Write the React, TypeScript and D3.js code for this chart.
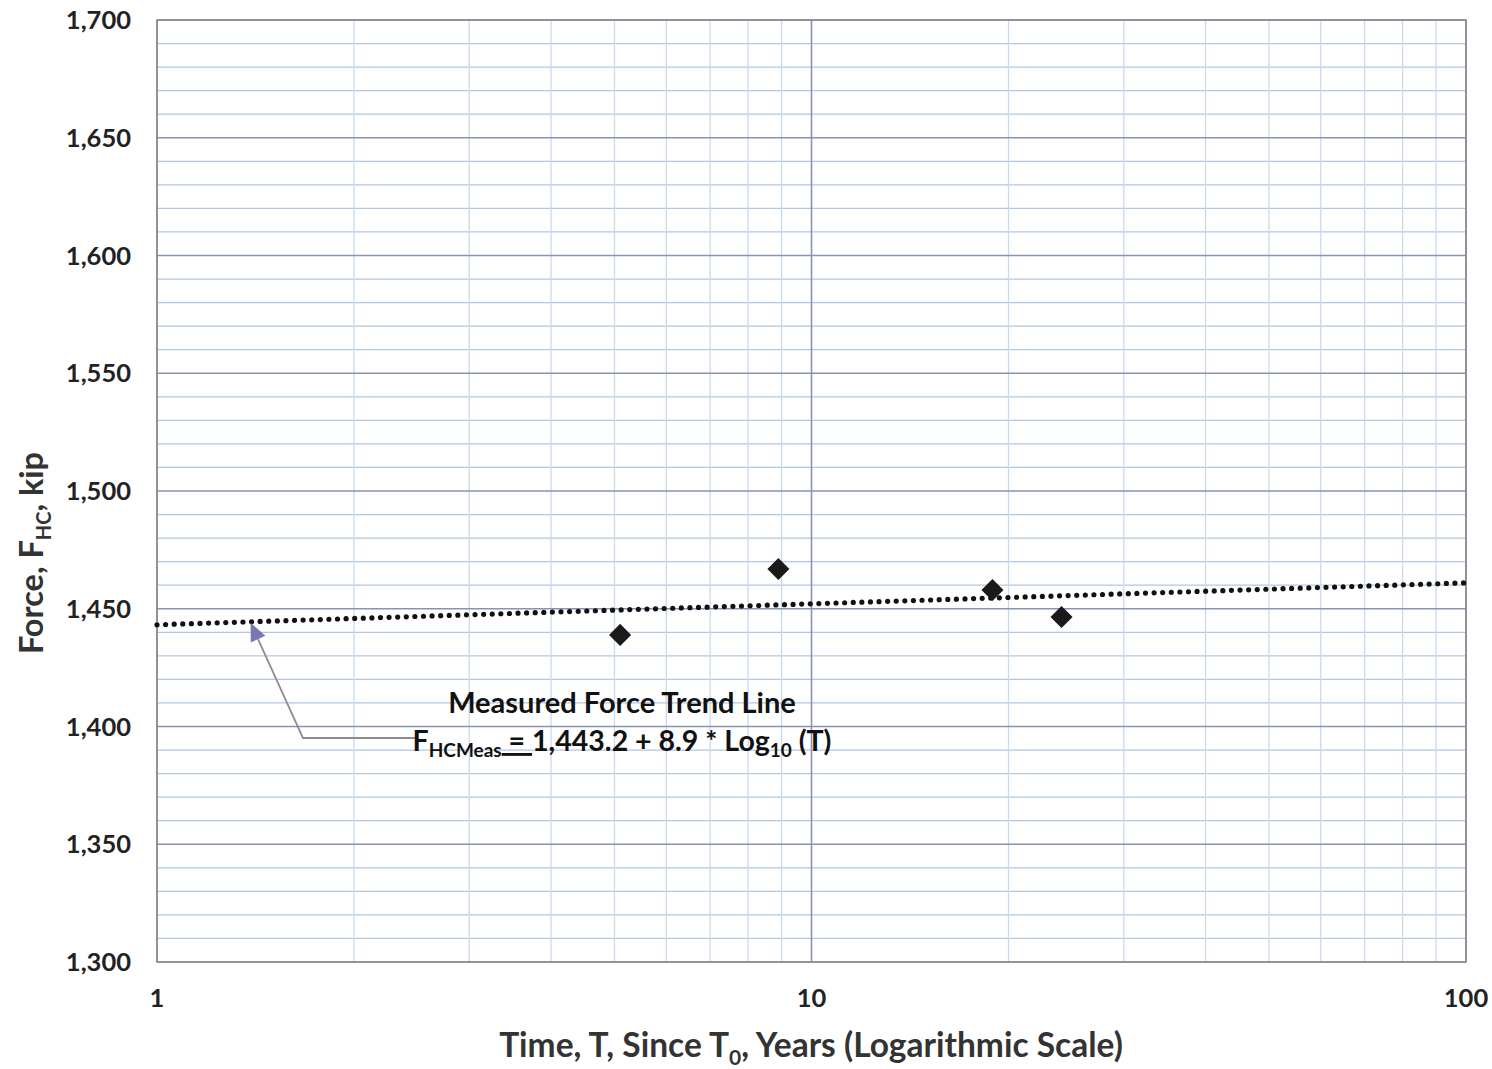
import React from "react";
import * as d3 from "d3";

const yTicks = [1300, 1350, 1400, 1450, 1500, 1550, 1600, 1650, 1700];
const xTicks = [1, 10, 100];
const measuredT = [5.1, 8.9, 18.9, 24.1];
const measuredF = [1438.9, 1466.9, 1458.0, 1446.5];
const trendIntercept = 1443.2;
const trendSlope = 8.9;
const trendRange = [1, 100];

const W = 1492, H = 1069;
const L = 157, R = 1466, T = 20, B = 962;
const FONT = "Lato, 'Open Sans', sans-serif";

export default function App() {
  const x = d3.scaleLog().domain([1, 100]).range([L, R]);
  const y = d3.scaleLinear().domain([1300, 1700]).range([B, T]);
  const minorX: number[] = [];
  for (const dec of [1, 10]) for (let k = 2; k <= 9; k++) minorX.push(dec * k);
  const minorY = d3.range(1300, 1701, 10).filter((v) => v % 50 !== 0);
  const trendPts: [number, number][] = trendRange.map((t) => [t, trendIntercept + trendSlope * Math.log10(t)]);
  const line = d3.line<[number, number]>().x((d) => x(d[0])).y((d) => y(d[1]));
  const fmt = d3.format(",");
  const diamond = d3.symbol().type(d3.symbolDiamond2).size(310)();

  // arrow geometry (annotation)
  const arrowTipT = 1.39;
  const tip: [number, number] = [x(arrowTipT), y(trendIntercept + trendSlope * Math.log10(arrowTipT)) + 1];
  const elbow: [number, number] = [303, 738];
  const start: [number, number] = [415, 738];
  const ang = Math.atan2(tip[1] - elbow[1], tip[0] - elbow[0]);
  const ah = 18, aw = 8;
  const bx = tip[0] - ah * Math.cos(ang), by = tip[1] - ah * Math.sin(ang);
  const head = [
    [tip[0], tip[1]],
    [bx + aw * Math.sin(ang), by - aw * Math.cos(ang)],
    [bx - aw * Math.sin(ang), by + aw * Math.cos(ang)],
  ];

  return (
    <svg width={W} height={H} style={{ position: "absolute", left: 0, top: 0, background: "#fff" }} fontFamily={FONT}>
      <rect x={0} y={0} width={W} height={H} fill="#fff" />
      {/* minor grid */}
      {minorY.map((v) => (
        <line key={"my" + v} x1={L} x2={R} y1={y(v)} y2={y(v)} stroke="#b3c6e2" strokeWidth={1.3} />
      ))}
      {minorX.map((v) => (
        <line key={"mx" + v} x1={x(v)} x2={x(v)} y1={T} y2={B} stroke="#c9daf0" strokeWidth={1.3} />
      ))}
      {/* major grid */}
      {yTicks.map((v) => (
        <line key={"My" + v} x1={L} x2={R} y1={y(v)} y2={y(v)} stroke="#8793b3" strokeWidth={1.6} />
      ))}
      {xTicks.map((v) => (
        <line key={"Mx" + v} x1={x(v)} x2={x(v)} y1={T} y2={B} stroke="#8793b3" strokeWidth={1.6} />
      ))}
      <rect x={L} y={T} width={R - L} height={B - T} fill="none" stroke="#8a8a8a" strokeWidth={1.5} />

      {/* trend line */}
      <path d={line(trendPts) || ""} fill="none" stroke="#111" strokeWidth={5.2} strokeDasharray="0 8.6" strokeLinecap="round" />

      {/* points */}
      {measuredT.map((t, i) => (
        <path key={"p" + i} d={diamond || ""} transform={`translate(${x(t)},${y(measuredF[i])})`} fill="#1a1a1a" />
      ))}

      {/* annotation arrow */}
      <polyline points={[start, elbow, [bx, by]].map((p) => p.join(",")).join(" ")} fill="none" stroke="#8c8c8c" strokeWidth={1.8} />
      <polygon points={head.map((p) => p.join(",")).join(" ")} fill="#7a78b0" />

      {/* annotation text */}
      <text x={622} y={713} textAnchor="middle" fontSize={29} fontWeight={700} fill="#111">
        Measured Force Trend Line
      </text>
      <text x={622} y={751} textAnchor="middle" fontSize={28.5} fontWeight={700} fill="#111">
        F<tspan fontSize={19} dy={6}>HCMeas</tspan>
        <tspan dy={-6} textDecoration="underline"> = </tspan>1,443.2 + 8.9 * Log<tspan fontSize={19} dy={6}>10</tspan>
        <tspan dy={-6}> (T)</tspan>
      </text>

      {/* y tick labels */}
      {yTicks.map((v) => (
        <text key={"yl" + v} x={131} y={y(v) + 9} textAnchor="end" fontSize={25.5} fontWeight={700} fill="#222">
          {fmt(v)}
        </text>
      ))}
      {/* x tick labels */}
      {xTicks.map((v) => (
        <text key={"xl" + v} x={x(v)} y={1007} textAnchor="middle" fontSize={25.5} fontWeight={700} fill="#222">
          {v}
        </text>
      ))}

      {/* axis titles */}
      <text x={811} y={1057} textAnchor="middle" fontSize={33.5} fontWeight={700} fill="#333">
        Time, T, Since T<tspan fontSize={21} dy={8}>0</tspan>
        <tspan dy={-8}>, Years (Logarithmic Scale)</tspan>
      </text>
      <text transform="translate(43,553) rotate(-90)" textAnchor="middle" fontSize={32.5} fontWeight={700} fill="#333">
        Force, F<tspan fontSize={20} dy={8}>HC</tspan>
        <tspan dy={-8}>, kip</tspan>
      </text>
    </svg>
  );
}
